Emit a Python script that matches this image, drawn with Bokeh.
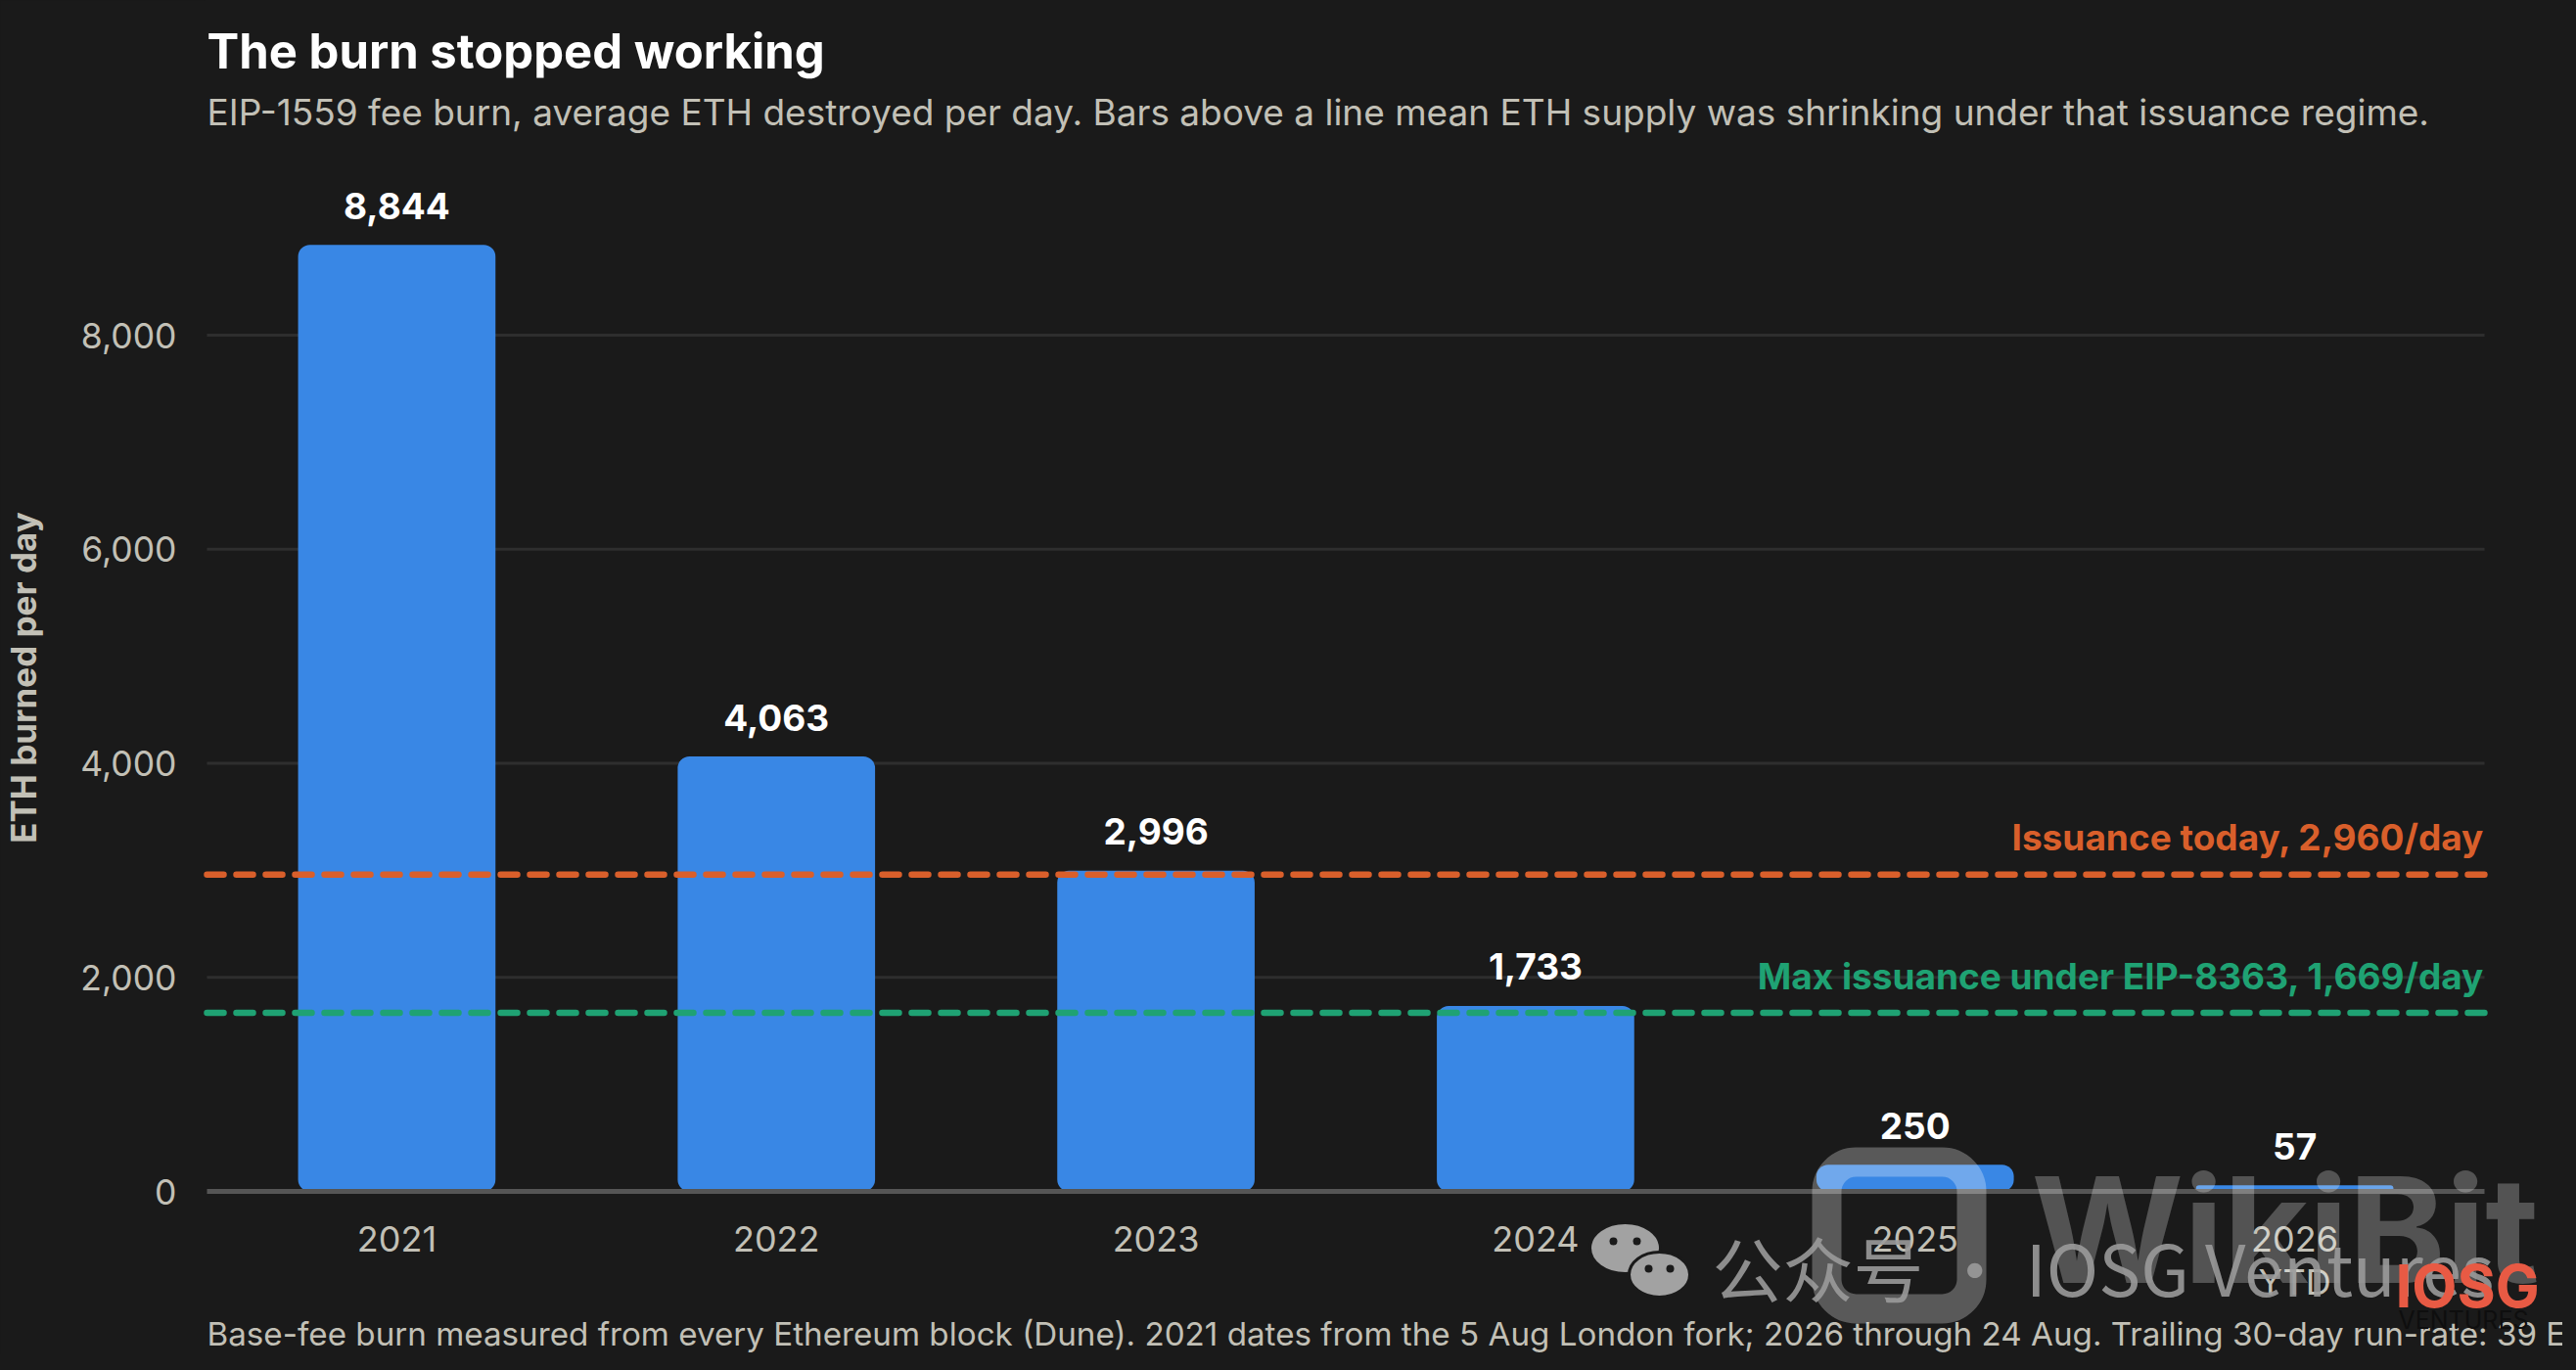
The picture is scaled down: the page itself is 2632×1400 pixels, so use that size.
from bokeh.plotting import figure
from bokeh.models import ColumnDataSource, Label, NumeralTickFormatter, FixedTicker, Range1d, BoxAnnotation
from bokeh.core.properties import value
from bokeh.embed import file_html
from bokeh.resources import INLINE

categories = ["2021", "2022", "2023", "2024", "2025", "2026\nYTD"]
burn_per_day = [8844, 4063, 2996, 1733, 250, 57]
burn_labels = ["8,844", "4,063", "2,996", "1,733", "250", "57"]
y_ticks = [0, 2000, 4000, 6000, 8000]
issuance_today = 2960
issuance_max = 1669

BG = "#1a1a1a"
TXT = "#c2c0b6"
BLUE = "#3987e5"
ORANGE = "#d95f2b"
GREEN = "#1fa273"
FONT = "Inter"

# Page geometry, in pixels of the final picture
W, H = 2616, 1384
PLOT_LEFT, PLOT_RIGHT = 213, 2540   # where the gridlines start and end
FRAME_LEFT, FRAME_TOP = 211, 0      # where the frame lands in the picture
FW, FH = 2409, 1384
ZERO_Y = 1217
PX_PER_CAT = (PLOT_RIGHT - PLOT_LEFT) / len(categories)
PX_PER_UNIT = 0.109375


def xd(px):
    return -0.5 + (px - PLOT_LEFT) / PX_PER_CAT


def yd(py):
    return (ZERO_Y - py) / PX_PER_UNIT


x_idx = list(range(len(categories)))
p = figure(x_range=Range1d(xd(FRAME_LEFT), xd(FRAME_LEFT + FW)), y_range=Range1d(yd(FRAME_TOP + FH), yd(FRAME_TOP)),
           width=W, height=H, frame_width=FW, frame_height=FH,
           output_backend="svg", toolbar_location=None,
           min_border_left=W - FW, min_border_right=0, min_border_top=0, min_border_bottom=0,
           background_fill_color=BG, border_fill_color=BG, outline_line_color=None)

n = len(x_idx)
p.grid.visible = False
p.segment(x0=[-0.5] * 4, x1=[n - 0.5] * 4, y0=y_ticks[1:], y1=y_ticks[1:], line_color="#2e2e2e", line_width=3, level="underlay")

src = ColumnDataSource(dict(x=x_idx, y=burn_per_day, t=burn_labels))
p.vbar(x="x", top="y", bottom=0, width=0.52, source=src, fill_color=BLUE, line_color=None, border_radius=12)
p.text(x="x", y="y", text="t", source=src, text_align="center", text_baseline="middle", y_offset=-40,
       text_color="#ffffff", text_font=value(FONT), text_font_size="37px", text_font_style="bold")

for v, c in ((issuance_today, ORANGE), (issuance_max, GREEN)):
    p.segment(x0=[-0.5], x1=[n - 0.5], y0=[v], y1=[v], line_color=c, line_width=6.5,
              line_dash="17 13", line_cap="round", level="annotation")

p.yaxis.ticker = FixedTicker(ticks=y_ticks)
p.yaxis.formatter = NumeralTickFormatter(format="0,0")
p.yaxis.axis_line_color = None
p.yaxis.major_tick_line_color = None
p.yaxis.minor_tick_line_color = None
p.yaxis.major_label_standoff = 23
p.yaxis.major_label_text_color = TXT
p.yaxis.major_label_text_font = FONT
p.yaxis.major_label_text_font_size = "35.5px"
p.yaxis.axis_label = "ETH burned per day"
p.yaxis.axis_label_text_color = TXT
p.yaxis.axis_label_text_font = FONT
p.yaxis.axis_label_text_font_size = "35px"
p.yaxis.axis_label_text_font_style = "bold"
p.yaxis.axis_label_standoff = 34

p.xaxis.fixed_location = 0
p.xaxis.bounds = (-0.5, n - 0.5)
p.xaxis.ticker = FixedTicker(ticks=x_idx)
p.xaxis.major_label_overrides = dict(zip(x_idx, categories))
p.xaxis.axis_line_color = "#555555"
p.xaxis.axis_line_width = 5
p.xaxis.major_tick_line_color = None
p.xaxis.minor_tick_line_color = None
p.xaxis.major_label_standoff = 20
p.xaxis.major_label_text_line_height = 1.0
p.xaxis.major_label_text_color = TXT
p.xaxis.major_label_text_font = FONT
p.xaxis.major_label_text_font_size = "36px"


def label(text, px, py, color, size, style="normal", align="left", font=FONT, alpha=1.0):
    p.add_layout(Label(x=xd(px), y=yd(py), text=text, text_color=color, text_font=font,
                       text_font_size=size, text_font_style=style, text_align=align,
                       text_baseline="middle", text_alpha=alpha, level="overlay"))


label("The burn stopped working", PLOT_LEFT, 52, "#ffffff", "49px", "bold")
label("EIP-1559 fee burn, average ETH destroyed per day. Bars above a line mean ETH supply was shrinking under that issuance regime.",
      PLOT_LEFT, 114, TXT, "37px")
label("Issuance today, 2,960/day", 2540, 855, ORANGE, "37px", "bold", "right")
label("Max issuance under EIP-8363, 1,669/day", 2540, 997, GREEN, "37px", "bold", "right")
label("Base-fee burn measured from every Ethereum block (Dune). 2021 dates from the 5 Aug London fork; 2026 through 24 Aug. Trailing 30-day run-rate: 39 E",
      PLOT_LEFT, 1362, TXT, "33.2px")

# Watermarks laid over the picture
ring = BoxAnnotation(left=xd(1868), right=xd(2016), top=yd(1187), bottom=yd(1337), fill_alpha=0,
                     line_color="#ffffff", line_alpha=0.28, line_width=30, border_radius=30, level="overlay")
p.add_layout(ring)
label("WikiBit", 2077, 1256, "#ffffff", "150px", "bold", alpha=0.25)

p.ellipse(x=[xd(1662), xd(1697)], y=[yd(1275), yd(1302)], width=[72, 62], height=[52, 46],
          width_units="screen", height_units="screen", fill_color="#a2a2a2", line_color=BG, line_width=3, level="overlay")
p.scatter(x=[xd(1650), xd(1674), xd(1686), xd(1708)], y=[yd(1268), yd(1268), yd(1296), yd(1296)], size=8,
          fill_color=BG, line_color=None, level="overlay")
label("公众号 · IOSG Ventures", 1751, 1293, "#9a9a9a", "72px", font="Noto Sans CJK SC", alpha=0.9)
label("IOSG", 2449, 1313, "#e85a44", "60px", "bold")
label("VENTURES", 2452, 1348, "#0e0e0e", "25px")

html = file_html(p, INLINE).replace("<head>", "<head><style>html,body{background:#1a1a1a}</style>", 1)
open("out.html", "w").write(html)
